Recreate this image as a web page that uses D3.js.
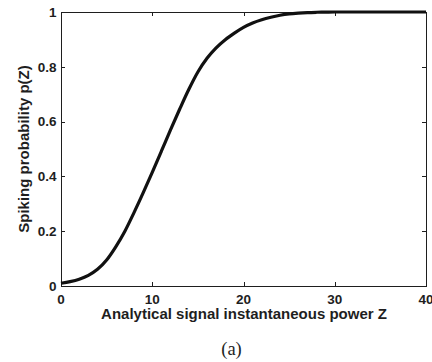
<!DOCTYPE html>
<html><head><meta charset="utf-8">
<script src="https://cdn.jsdelivr.net/npm/d3@7"></script>
<style>html,body{margin:0;padding:0;background:#fff;}svg{display:block;}</style>
</head><body>
<svg id="c" width="432" height="362"></svg>
<script>
const zValues = [0,1,2,3,4,5,6,7,8,9,10,11,12,13,14,15,16,17,18,19,20,21,22,23,24,25,26,27,28,29,30,32,35,40];
const pValues = [0.010,0.016,0.025,0.039,0.061,0.095,0.143,0.200,0.268,0.340,0.415,0.492,0.570,0.645,0.717,0.781,0.831,0.869,0.899,0.923,0.944,0.960,0.972,0.981,0.988,0.993,0.996,0.998,0.999,0.9995,1.0,1.0,1.0,1.0];
const xTicks = [0,10,20,30,40];
const yTicks = [0,0.2,0.4,0.6,0.8,1];
const xLabel = "Analytical signal instantaneous power Z";
const yLabel = "Spiking probability p(Z)";
const caption = "(a)";

const svg = d3.select("#c");
const L = 61, R = 426, T = 12, B = 286;
const x = d3.scaleLinear().domain([0,40]).range([L,R]);
const y = d3.scaleLinear().domain([0,1]).range([B,T]);
const ink = "#1e1e1e";
const tl = 4;

const g = svg.append("g");
const tickAttr = sel => sel.attr("stroke", ink).attr("stroke-width",1).attr("shape-rendering","crispEdges");
xTicks.forEach(t => {
  const xx = Math.round(x(t)) + 0.5;
  tickAttr(g.append("line").attr("x1",xx).attr("x2",xx).attr("y1",B).attr("y2",B-tl));
  tickAttr(g.append("line").attr("x1",xx).attr("x2",xx).attr("y1",T).attr("y2",T+tl));
});
yTicks.forEach(t => {
  const yy = Math.round(y(t)) + 0.5;
  tickAttr(g.append("line").attr("x1",L).attr("x2",L+tl).attr("y1",yy).attr("y2",yy));
  tickAttr(g.append("line").attr("x1",R).attr("x2",R-tl).attr("y1",yy).attr("y2",yy));
});
g.append("rect").attr("x",L+0.5).attr("y",T+0.5).attr("width",R-L).attr("height",B-T)
  .attr("fill","none").attr("stroke",ink).attr("stroke-width",1.2).attr("shape-rendering","crispEdges");

const pts = zValues.map((z,i)=>[z,pValues[i]]);
const line = d3.line().x(d=>x(d[0])).y(d=>y(d[1])).curve(d3.curveMonotoneX);
svg.append("path").attr("d", line(pts)).attr("fill","none").attr("stroke","#111")
  .attr("stroke-width",3.2).attr("stroke-linejoin","round").attr("stroke-linecap","butt");

const font = "'Liberation Sans', Arial, Helvetica, sans-serif";
const fmt = d => d===0?"0":(d===1?"1":d3.format(".1f")(d));
xTicks.forEach(t => {
  svg.append("text").attr("x", x(t)).attr("y", 303.5).attr("text-anchor","middle")
    .attr("font-family",font).attr("font-weight","bold").attr("font-size","13.5px").attr("fill",ink).text(t);
});
yTicks.forEach(t => {
  svg.append("text").attr("x", 56.5).attr("y", y(t)+4.8).attr("text-anchor","end")
    .attr("font-family",font).attr("font-weight","bold").attr("font-size","13.5px").attr("fill",ink).text(fmt(t));
});
svg.append("text").attr("x",(L+R)/2+0.5).attr("y",319).attr("text-anchor","middle")
  .attr("font-family",font).attr("font-weight","bold").attr("font-size","15px").attr("fill",ink).text(xLabel);
svg.append("text").attr("transform",`translate(28.5,${(T+B)/2}) rotate(-90)`).attr("text-anchor","middle")
  .attr("font-family",font).attr("font-weight","bold").attr("font-size","15px").attr("fill",ink).text(yLabel);
svg.append("text").attr("x",231.5).attr("y",354.5).attr("text-anchor","middle")
  .attr("font-family","'Liberation Serif','Times New Roman',serif").attr("font-size","18.5px").attr("fill",ink).text(caption);
</script>
</body></html>
